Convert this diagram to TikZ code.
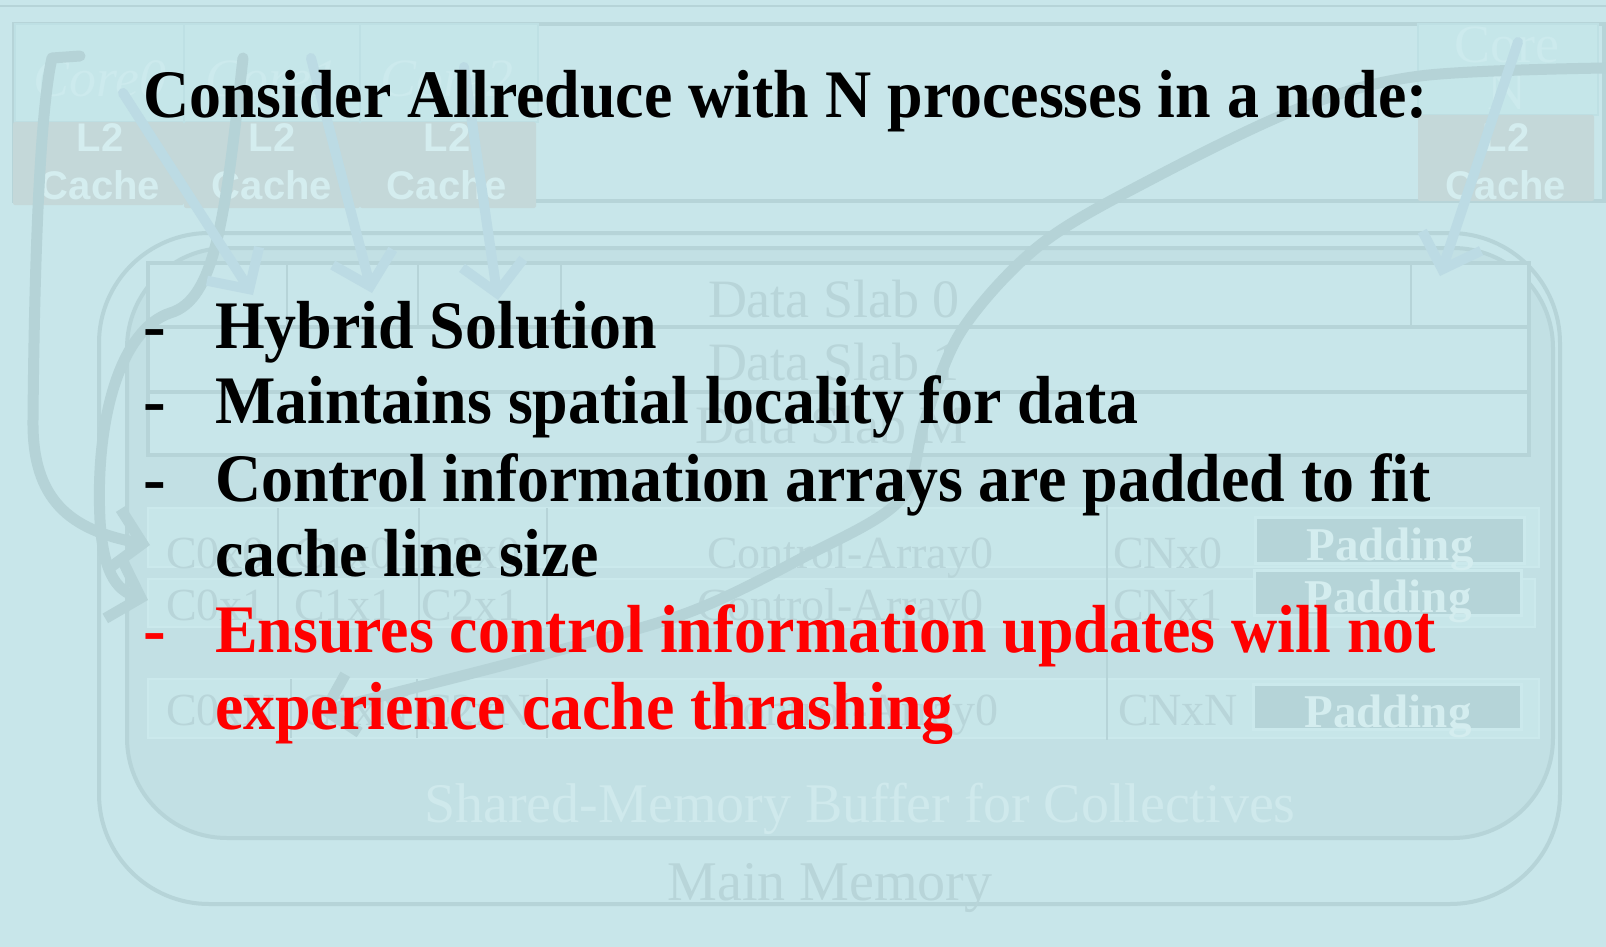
\documentclass[tikz,border=0pt]{standalone}
\usepackage{graphicx}
\usepackage{fontspec}
\setmainfont{Liberation Serif}
\newfontfamily\arialb{Liberation Sans}
\usetikzlibrary{arrows.meta}
\definecolor{bgc}{RGB}{200,230,234}
\definecolor{lnc}{RGB}{182,212,216}
\definecolor{bufc}{RGB}{194,224,228}
\definecolor{l2c}{RGB}{196,216,217}
\definecolor{corec}{RGB}{197,230,233}
\definecolor{coreb}{RGB}{190,224,228}
\definecolor{arrc}{RGB}{188,219,228}
\definecolor{crvc}{RGB}{181,211,215}
\definecolor{ftxt}{RGB}{184,213,217}
\definecolor{wtxt}{RGB}{212,237,239}
\definecolor{cortxt}{RGB}{204,234,237}
\definecolor{padc}{RGB}{181,212,216}
\definecolor{rowc}{RGB}{199,230,233}
\definecolor{rowb}{RGB}{203,233,236}
\newcommand{\hsq}[1]{\scalebox{0.94}[1]{#1}}
\begin{document}
\begin{tikzpicture}[x=1pt,y=-1pt,
  every node/.style={inner sep=0pt, outer sep=0pt},
  frame/.style={draw=lnc, line width=4pt},
  thinl/.style={draw=lnc, line width=1.5pt},
  corebox/.style={draw=coreb, fill=corec, line width=2pt},
  l2box/.style={fill=l2c, rounded corners=2pt},
  rowband/.style={fill=rowc, draw=rowb, line width=2pt},
  padbox/.style={fill=padc, draw=rowb, line width=3pt},
  slabtxt/.style={text=ftxt, font=\fontsize{54}{60}\selectfont, anchor=base west},
  ctltxt/.style={text=ftxt, font=\fontsize{46}{50}\selectfont, anchor=base west},
  padtxt/.style={text=wtxt, font=\bfseries\fontsize{47}{50}\selectfont, anchor=base},
  coretxt/.style={text=cortxt, font=\itshape\fontsize{54}{60}\selectfont, anchor=base},
  l2txt/.style={text=wtxt, font=\arialb\bfseries\fontsize{40}{44}\selectfont, anchor=base},
  memtxt/.style={font=\fontsize{56}{60}\selectfont, anchor=base},
  barrow/.style={draw=arrc, line width=10pt, line cap=round, line join=round,
    -{Straight Barb[length=30pt,width=62pt]}},
  carrow/.style={draw=crvc, line width=11pt, line cap=round, line join=round,
    -{Straight Barb[length=28pt,width=60pt]}},
  maintxt/.style={font=\bfseries\fontsize{68}{76}\selectfont, anchor=base west},
]
\useasboundingbox (0,0) rectangle (1606,947);
\fill[bgc] (0,0) rectangle (1606,947);
% top line and node box
\draw[lnc, line width=2pt] (0,6) -- (1606,6);
\draw[frame] (14,24) rectangle (1604,201);
% cores
\draw[corebox] (15,24) rectangle (184,122);
\draw[corebox] (184,24) rectangle (360,122);
\draw[corebox] (360,24) rectangle (538,122);
\draw[corebox] (1418,24) rectangle (1598,115);
\fill[l2box] (13,122) rectangle (184,205);
\fill[l2box] (184,122) rectangle (360,208);
\fill[l2box] (360,122) rectangle (536,208);
\fill[l2box] (1418,115) rectangle (1594,201);
\node[coretxt] (c0t) at (100,97) {Core0};
\node[coretxt] (c1t) at (272,97) {Core1};
\node[coretxt] (c2t) at (447,97) {Core2};
\node[coretxt, font=\fontsize{54}{60}\selectfont] (cnt) at (1507,63) {Core};
\node[coretxt, font=\fontsize{54}{60}\selectfont] (cnn) at (1507,110) {N};
\foreach \x/\n in {100/a,272/b,447/c,1506/d}{
  \node[l2txt] (l2\n) at (\x,152) {L2};
  \node[l2txt] (ca\n) at (\x,199) {Cache};
}
% main memory and buffer
\draw[frame, rounded corners=110pt] (99,233) rectangle (1560,904);
\draw[frame, fill=bufc, rounded corners=100pt] (127,248) rectangle (1553,838);
\draw[frame, fill=bgc] (148,263) rectangle (1529,455);
\draw[frame] (148,327) -- (1529,327);
\draw[frame] (148,392) -- (1529,392);
\foreach \x in {287,418,561,1411}{\draw[thinl] (\x,263) -- (\x,327);}
\node[slabtxt] (ds0) at (708,317) {Data Slab 0};
\node[slabtxt] (ds1) at (708,380) {Data Slab 1};
\node[slabtxt] (dsm) at (695,443) {Data Slab M};
% control rows
\draw[rowband] (148,508) rectangle (1539,567);
\draw[rowband] (148,579) rectangle (1535,627);
\draw[rowband] (148,679) rectangle (1539,738);
\foreach \x in {278,419,547}{\draw[thinl] (\x,508) -- (\x,627);}
\foreach \x in {291,417,547}{\draw[thinl] (\x,679) -- (\x,738);}
\draw[thinl] (1107,505) -- (1107,740);
\draw[padbox] (1255,517) rectangle (1524,563);
\draw[padbox] (1254,570) rectangle (1521,615);
\draw[padbox] (1253,684) rectangle (1521,729);
\node[ctltxt] (a00) at (166,568) {C0x0};
\node[ctltxt] (a10) at (294,568) {C1x0};
\node[ctltxt] (a20) at (421,568) {C2x0};
\node[ctltxt] (aa0) at (707,568) {Control-Array0};
\node[ctltxt] (an0) at (1113,568) {CNx0};
\node[ctltxt] (a01) at (166,620) {C0x1};
\node[ctltxt] (a11) at (294,620) {C1x1};
\node[ctltxt] (a21) at (421,620) {C2x1};
\node[ctltxt] (aa1) at (697,620) {Control-Array0};
\node[ctltxt] (an1) at (1113,620) {CNx1};
\node[ctltxt] (a0n) at (166,725) {C0xN};
\node[ctltxt] (a1n) at (300,725) {C1xN};
\node[ctltxt] (a2n) at (421,725) {C2xN};
\node[ctltxt] (aan) at (712,725) {Control-Array0};
\node[ctltxt] (ann) at (1118,725) {CNxN};
\node[padtxt] (p0) at (1390,560) {Padding};
\node[padtxt] (p1) at (1388,612) {Padding};
\node[padtxt] (pn) at (1388,727) {Padding};
\node[memtxt, text=wtxt!70!bufc] (smb) at (860,822) {Shared-Memory Buffer for Collectives};
\node[memtxt, text=ftxt] (mm) at (830,900) {Main Memory};
% curved arrows
\draw[carrow] (80,56) -- (52,58) .. controls (38,120) and (34,300) .. (33,420)
  .. controls (32,500) and (70,530) .. (150,545);
\draw[carrow] (243,58) .. controls (225,220) and (215,300) .. (170,313)
  .. controls (120,330) and (95,420) .. (100,520)
  .. controls (103,570) and (115,590) .. (148,600);
\draw[carrow] plot[smooth, tension=0.55] coordinates {(1606,68) (1420,76) (1300,108) (1150,180) (1040,245) (962,330) (925,420) (900,500) (804,557) (687,613) (534,657) (406,690) (318,712)};
% straight arrows
\draw[barrow] (123,93) -- (253,295);
\draw[barrow] (311,58) -- (372,293);
\draw[barrow] (464,67) -- (498,300);
\draw[barrow] (1518,42) -- (1440,276);
% main text
\node[maintxt] (title) at (143,118) {\hsq{Consider Allreduce with N processes in a node:}};
\node[maintxt] (d1) at (143,348) {-};
\node[maintxt] (b1) at (215,348) {\hsq{Hybrid Solution}};
\node[maintxt] (d2) at (143,423) {-};
\node[maintxt] (b2) at (215,423) {\hsq{Maintains spatial locality for data}};
\node[maintxt] (d3) at (143,501) {-};
\node[maintxt] (b3) at (215,501) {\hsq{Control information arrays are padded to fit}};
\node[maintxt] (b3b) at (215,576) {\hsq{cache line size}};
\node[maintxt, text=red] (d4) at (143,652) {-};
\node[maintxt, text=red] (b4) at (215,652) {\hsq{Ensures control information updates will not}};
\node[maintxt, text=red] (b4b) at (215,729) {\hsq{experience cache thrashing}};
\end{tikzpicture}
\end{document}
